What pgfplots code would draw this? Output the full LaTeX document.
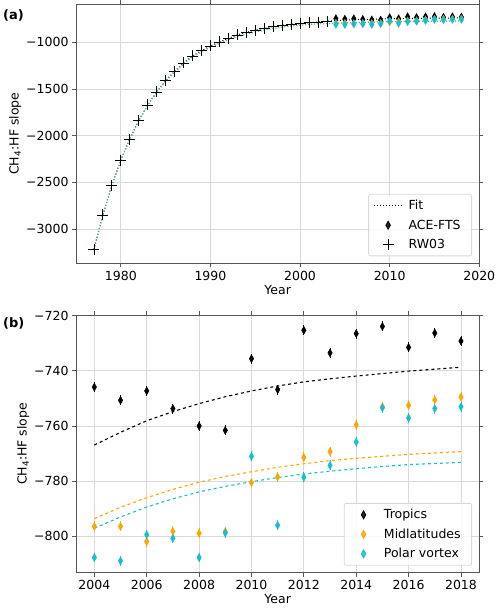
\documentclass[border=0pt]{standalone}
\usepackage{pgfplots}
\pgfplotsset{compat=1.18}
\usepackage{fontspec}
\setmainfont{DejaVu Sans}
\definecolor{mplorange}{HTML}{FFA500}
\definecolor{mplcyan}{HTML}{17BECF}
\definecolor{gridgray}{HTML}{D9D9D9}
\definecolor{spinegray}{HTML}{555555}
\pgfplotsset{
  myaxis/.style={
    scale only axis,
    width=403.3pt,
    axis line style={spinegray, line width=0.9pt},
    grid=major,
    major grid style={gridgray, line width=0.9pt},
    tick align=outside,
    major tick length=4pt,
    tick style={spinegray, line width=0.8pt},
    ticklabel style={font=\fontsize{12.5}{14}\selectfont},
    label style={font=\fontsize{12.5}{14}\selectfont},
    legend style={font=\fontsize{12.5}{14}\selectfont, draw=gridgray, rounded corners=2pt, fill=white, fill opacity=0.85, text opacity=1, line width=0.8pt, row sep=4.5pt, inner xsep=5pt, inner ysep=4pt, nodes={inner xsep=6pt}},
    legend cell align=left,
    legend image code/.code={\path (0pt,0pt) (28pt,0pt); \draw[mark repeat=2,mark phase=2,##1] plot coordinates {(0pt,0pt) (14pt,0pt) (28pt,0pt)};},
    /pgf/number format/assume math mode=true,
    xticklabel style={/pgf/number format/1000 sep={}},
    xlabel style={yshift=2pt},
    ylabel style={yshift=-2pt},
  },
  dmark/.style={only marks, mark=diamond*, mark size=4pt, mark options={xscale=0.75, draw=#1, fill=#1}, color=#1},
}
\begin{document}
\begin{tikzpicture}[x=1pt,y=1pt]
\useasboundingbox (0,0) rectangle (500,611);
% ---------------- panel (a)
\begin{axis}[myaxis,
  at={(76pt,347.7pt)}, anchor=south west,
  height=259.3pt,
  xmin=1975, xmax=2020, ymin=-3368, ymax=-589,
  xtick={1980,1990,2000,2010,2020},
  ytick={-3000,-2500,-2000,-1500,-1000},
  yticklabels={−3000,−2500,−2000,−1500,−1000},
  xlabel={Year}, ylabel={CH\textsubscript{4}:HF slope},
  legend style={at={(0.982,0.027)}, anchor=south east},
]
% fits (dotted)
\addplot[black, dotted, line width=1pt] coordinates {
(1977,-3218)(1978,-2850)(1979,-2532)(1980,-2261)(1981,-2036)(1982,-1839)(1983,-1671)(1984,-1532)(1985,-1411)(1986,-1311)(1987,-1221)(1988,-1146)(1989,-1089)(1990,-1039)(1991,-996)(1992,-957)(1993,-921)(1994,-893)(1995,-868)(1996,-850)(1997,-832)(1998,-818)(1999,-807)(2000,-800)(2001,-789)(2002,-782)(2003,-775)
(2004,-766.9)(2005,-762.3)(2006,-758.1)(2007,-754.8)(2008,-751.9)(2009,-749.4)(2010,-747.3)(2011,-745.5)(2012,-744.0)(2013,-742.9)(2014,-741.9)(2015,-741.0)(2016,-740.1)(2017,-739.4)(2018,-738.7)};
\addlegendentry{Fit}
\addplot[mplorange, dotted, line width=1pt, forget plot] coordinates {
(1977,-3218)(1978,-2850)(1979,-2532)(1980,-2261)(1981,-2036)(1982,-1840)(1983,-1673)(1984,-1535)(1985,-1415)(1986,-1316)(1987,-1228)(1988,-1154)(1989,-1098)(1990,-1049)(1991,-1008)(1992,-970)(1993,-936)(1994,-909)(1995,-885)(1996,-866)(1997,-849)(1998,-835)(1999,-823)(2000,-814)(2001,-806)(2002,-800)(2003,-797)
(2004,-793.6)(2005,-789.5)(2006,-786.0)(2007,-783.0)(2008,-780.4)(2009,-778.3)(2010,-776.6)(2011,-775.0)(2012,-773.7)(2013,-772.6)(2014,-771.7)(2015,-771.0)(2016,-770.3)(2017,-769.8)(2018,-769.3)};
\addplot[mplcyan, dotted, line width=1pt, forget plot] coordinates {
(1977,-3218)(1978,-2850)(1979,-2532)(1980,-2261)(1981,-2036)(1982,-1841)(1983,-1675)(1984,-1537)(1985,-1418)(1986,-1320)(1987,-1232)(1988,-1158)(1989,-1102)(1990,-1053)(1991,-1012)(1992,-974)(1993,-940)(1994,-913)(1995,-889)(1996,-870)(1997,-853)(1998,-839)(1999,-827)(2000,-818)(2001,-810)(2002,-804)(2003,-800)
(2004,-797.1)(2005,-793.0)(2006,-789.4)(2007,-786.4)(2008,-783.9)(2009,-781.9)(2010,-780.2)(2011,-778.7)(2012,-777.4)(2013,-776.4)(2014,-775.5)(2015,-774.7)(2016,-774.0)(2017,-773.6)(2018,-773.2)};
% ACE-FTS
\addplot[dmark=black] coordinates {
(2004,-745.9)(2005,-750.7)(2006,-747.3)(2007,-753.7)(2008,-760.0)(2009,-761.6)(2010,-735.6)(2011,-746.8)(2012,-725.3)(2013,-733.5)(2014,-726.5)(2015,-723.9)(2016,-731.5)(2017,-726.3)(2018,-729.2)};
\addlegendentry{ACE-FTS}
\addplot[dmark=mplorange, forget plot] coordinates {
(2004,-796.4)(2005,-796.4)(2006,-801.9)(2007,-798.2)(2008,-798.9)(2009,-798.3)(2010,-780.5)(2011,-778.5)(2012,-771.4)(2013,-769.3)(2014,-759.6)(2015,-753.0)(2016,-752.5)(2017,-750.6)(2018,-749.5)};
\addplot[dmark=mplcyan, forget plot] coordinates {
(2004,-807.7)(2005,-808.9)(2006,-799.4)(2007,-800.7)(2008,-807.7)(2009,-798.8)(2010,-771.0)(2011,-796.0)(2012,-778.6)(2013,-774.3)(2014,-765.8)(2015,-753.4)(2016,-757.1)(2017,-753.7)(2018,-753.0)};
% RW03
\addplot[only marks, mark=+, mark size=5.5pt, mark options={line width=0.8pt, black}] coordinates {
(1977,-3218)(1978,-2850)(1979,-2532)(1980,-2261)(1981,-2036)(1982,-1839)(1983,-1671)(1984,-1532)(1985,-1411)(1986,-1311)(1987,-1221)(1988,-1146)(1989,-1089)(1990,-1039)(1991,-996)(1992,-957)(1993,-921)(1994,-893)(1995,-868)(1996,-850)(1997,-832)(1998,-818)(1999,-807)(2000,-800)(2001,-789)(2002,-782)(2003,-775)};
\addlegendentry{RW03}
\end{axis}
% ---------------- panel (b)
\begin{axis}[myaxis,
  at={(76pt,38.3pt)}, anchor=south west,
  height=257.7pt,
  xmin=2003.3, xmax=2018.7, ymin=-813.2, ymax=-719.76,
  xtick={2004,2006,2008,2010,2012,2014,2016,2018},
  ytick={-800,-780,-760,-740,-720},
  yticklabels={−800,−780,−760,−740,−720},
  xlabel={Year}, ylabel={CH\textsubscript{4}:HF slope},
  legend style={at={(0.982,0.027)}, anchor=south east},
]
\addplot[black, dashed, line width=1.1pt, forget plot] coordinates {
(2004,-766.9)(2005,-762.3)(2006,-758.1)(2007,-754.8)(2008,-751.9)(2009,-749.4)(2010,-747.3)(2011,-745.5)(2012,-744.0)(2013,-742.9)(2014,-741.9)(2015,-741.0)(2016,-740.1)(2017,-739.4)(2018,-738.7)};
\addplot[mplorange, dashed, line width=1.1pt, forget plot] coordinates {
(2004,-793.6)(2005,-789.5)(2006,-786.0)(2007,-783.0)(2008,-780.4)(2009,-778.3)(2010,-776.6)(2011,-775.0)(2012,-773.7)(2013,-772.6)(2014,-771.7)(2015,-771.0)(2016,-770.3)(2017,-769.8)(2018,-769.3)};
\addplot[mplcyan, dashed, line width=1.1pt, forget plot] coordinates {
(2004,-797.1)(2005,-793.0)(2006,-789.4)(2007,-786.4)(2008,-783.9)(2009,-781.9)(2010,-780.2)(2011,-778.7)(2012,-777.4)(2013,-776.4)(2014,-775.5)(2015,-774.7)(2016,-774.0)(2017,-773.6)(2018,-773.2)};
\addplot[dmark=black, error bars/.cd, y dir=both, y fixed=1.8, error mark=none, error bar style={black, line width=0.8pt}] coordinates {
(2004,-745.9)(2005,-750.7)(2006,-747.3)(2007,-753.7)(2008,-760.0)(2009,-761.6)(2010,-735.6)(2011,-746.8)(2012,-725.3)(2013,-733.5)(2014,-726.5)(2015,-723.9)(2016,-731.5)(2017,-726.3)(2018,-729.2)};
\addlegendentry{Tropics}
\addplot[dmark=mplorange, error bars/.cd, y dir=both, y fixed=1.8, error mark=none, error bar style={mplorange, line width=0.8pt}] coordinates {
(2004,-796.4)(2005,-796.4)(2006,-801.9)(2007,-798.2)(2008,-798.9)(2009,-798.3)(2010,-780.5)(2011,-778.5)(2012,-771.4)(2013,-769.3)(2014,-759.6)(2015,-753.0)(2016,-752.5)(2017,-750.6)(2018,-749.5)};
\addlegendentry{Midlatitudes}
\addplot[dmark=mplcyan, error bars/.cd, y dir=both, y fixed=1.8, error mark=none, error bar style={mplcyan, line width=0.8pt}] coordinates {
(2004,-807.7)(2005,-808.9)(2006,-799.4)(2007,-800.7)(2008,-807.7)(2009,-798.8)(2010,-771.0)(2011,-796.0)(2012,-778.6)(2013,-774.3)(2014,-765.8)(2015,-753.4)(2016,-757.1)(2017,-753.7)(2018,-753.0)};
\addlegendentry{Polar vortex}
\end{axis}
\node[anchor=west, font=\fontsize{13}{15}\selectfont\bfseries, inner sep=0pt] at (3,596) {(a)};
\node[anchor=west, font=\fontsize{13}{15}\selectfont\bfseries, inner sep=0pt] at (3,288) {(b)};
\end{tikzpicture}
\end{document}
